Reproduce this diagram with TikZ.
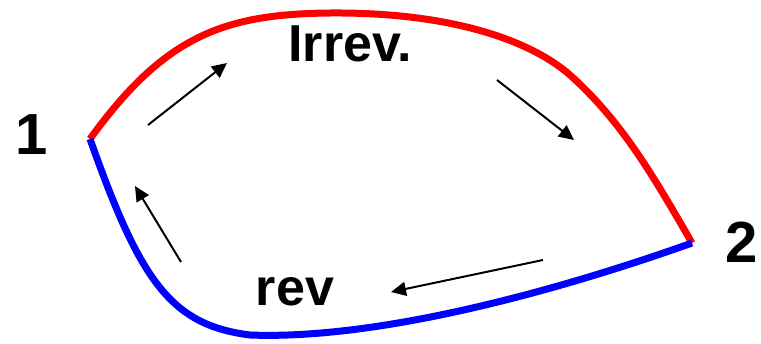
\documentclass[tikz,border=0pt]{standalone}
\usepackage{fontspec}
\setmainfont{Liberation Sans}
\usetikzlibrary{arrows.meta}
\begin{document}
\begin{tikzpicture}[x=1pt,y=-1pt,
  state/.style={font=\fontsize{58}{58}\selectfont\bfseries, inner sep=0pt},
  proc/.style={font=\fontsize{52}{52}\selectfont\bfseries, inner sep=0pt},
  path irrev/.style={draw=red, line width=7pt},
  path rev/.style={draw=blue, line width=7pt},
  flow/.style={draw=black, line width=2pt, -{Triangle[length=15pt,width=14pt]}}]
  \useasboundingbox (0,0) rectangle (761,343);
  % end states
  \coordinate (s1) at (90,139);
  \coordinate (s2) at (692,243);
  \node[state] (n1) at (32,135) {1};
  \node[state] (n2) at (742,242) {2};
  % process labels
  \node[proc] (irr) at (350,44) {Irrev.};
  \node[proc] (rv) at (295,292) {rev};
  % irreversible path (upper)
  \draw[path irrev] (s1) .. controls (165,35) and (225,14) .. (330,13)
        .. controls (450,12) and (530,40) .. (570,75)
        .. controls (620,120) and (650,170) .. (s2);
  % reversible path (lower)
  \draw[path rev] (s1) .. controls (140,280) and (170,325) .. (250,335)
        .. controls (380,340) and (560,290) .. (s2);
  % direction arrows
  \coordinate (a1s) at (148,125); \coordinate (a1e) at (227,63);
  \coordinate (a2s) at (497,80);  \coordinate (a2e) at (574,140);
  \coordinate (a3s) at (543,260); \coordinate (a3e) at (391,292);
  \coordinate (a4s) at (181,262); \coordinate (a4e) at (135,186);
  \draw[flow] (a1s) -- (a1e);
  \draw[flow] (a2s) -- (a2e);
  \draw[flow] (a3s) -- (a3e);
  \draw[flow] (a4s) -- (a4e);
\end{tikzpicture}
\end{document}
